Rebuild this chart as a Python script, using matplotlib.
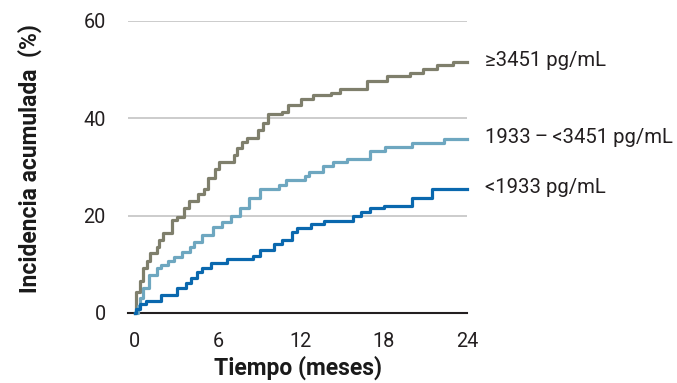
import matplotlib
matplotlib.use("Agg")
import matplotlib.pyplot as plt

plt.rcParams['font.family'] = ['Roboto', 'DejaVu Sans']

# Event times (months) and cumulative incidence (%) – step curves
t_high = [0, 0.07, 0.36, 0.6, 0.85, 1.08, 1.57, 1.76, 2.05, 2.65, 3.01, 3.54, 3.93, 4.58, 4.99,
          5.3, 5.78, 6.07, 7.16, 7.4, 7.76, 8.08, 8.87, 9.23, 9.59, 10.6, 11.04, 12.0, 12.9,
          14.2, 14.8, 16.8, 18.2, 19.9, 20.8, 21.8, 23.0, 24.0]
v_high = [0, 4.3, 6.6, 9.2, 10.7, 12.4, 13.6, 14.9, 16.4, 19.1, 19.8, 21.5, 23.0, 24.4, 25.5,
          27.7, 29.5, 31.0, 32.5, 34.0, 35.1, 35.9, 37.6, 39.0, 40.8, 41.4, 42.7, 43.9, 44.8,
          45.3, 46.0, 47.6, 48.7, 49.4, 50.1, 50.9, 51.6, 51.6]

t_mid = [0, 0.2, 0.4, 0.6, 1.01, 1.6, 1.85, 2.4, 2.85, 3.37, 3.98, 4.29, 4.87, 5.66, 6.27,
         6.94, 7.59, 8.24, 9.04, 10.41, 10.92, 12.29, 12.6, 13.57, 14.34, 15.35, 17.0, 18.08,
         20.05, 22.34, 24.0]
v_mid = [0, 1.5, 3.0, 5.1, 7.8, 9.2, 9.9, 10.7, 11.6, 12.6, 13.6, 14.5, 16.0, 17.7, 18.6,
         19.9, 21.5, 23.6, 25.5, 26.4, 27.3, 28.1, 29.0, 30.3, 31.0, 31.6, 33.3, 34.2,
         34.9, 35.7, 35.7]

t_low = [0, 0.1, 0.4, 0.8, 1.88, 3.06, 3.69, 4.05, 4.46, 4.87, 5.5, 6.63, 8.55, 9.04, 10.07,
         10.6, 11.33, 11.7, 12.7, 13.7, 15.74, 16.34, 17.0, 18.03, 20.0, 21.5, 24.0]
v_low = [0, 0.9, 1.8, 2.5, 3.6, 5.2, 6.2, 7.1, 8.5, 9.2, 10.2, 11.0, 11.7, 12.9, 14.1,
         15.1, 16.7, 17.4, 18.2, 18.9, 19.9, 20.7, 21.5, 22.0, 23.7, 25.5, 25.5]

series_labels = ["\u22653451 pg/mL", "1933\u2009\u2013\u2009<3451 pg/mL", "<1933 pg/mL"]
colors = ["#7f7f6c", "#6ea7c0", "#0a68ae"]

x_ticks = [0, 6, 12, 18, 24]
y_ticks = [0, 20, 40, 60]

fig = plt.figure(figsize=(6.77, 3.83), dpi=100)
ax = fig.add_axes([128/677, (383-313)/383, (467-128)/677, (313-21)/383])

for t, v, c in zip([t_high, t_mid, t_low], [v_high, v_mid, v_low], colors):
    ax.step(t, v, where='post', color=c, lw=2.3, clip_on=False, zorder=3)

for t, v, lab in zip([t_high, t_mid, t_low], [v_high, v_mid, v_low], series_labels):
    ax.text(25.3, v[-1] + 0.3, lab, va='center', ha='left', fontsize=14.6, color='#231f20',
            family=['Roboto', 'DejaVu Sans'])

ax.set_xlim(-0.5, 24)
ax.set_ylim(0, 60)
ax.set_xticks(x_ticks)
ax.set_yticks(y_ticks)
ax.set_xticklabels([str(x) for x in x_ticks])
ax.set_yticklabels([str(y) for y in y_ticks])
ax.tick_params(axis='both', length=0, labelsize=14.3, labelcolor='#231f20')
ax.tick_params(axis='y', pad=16)
ax.tick_params(axis='x', pad=14)

for s in ['top', 'right', 'left']:
    ax.spines[s].set_visible(False)
ax.spines['bottom'].set_color('#231f20')
ax.spines['bottom'].set_linewidth(1.5)

ax.yaxis.grid(True, color='#c8c8c8', lw=1.3)
ax.set_axisbelow(True)

ax.set_xlabel("Tiempo (meses)", fontsize=16.5, fontweight='bold', color='#1a1a1a', labelpad=3)
ax.set_ylabel("Incidencia acumulada  (%)", fontsize=16.5, fontweight='bold', color='#1a1a1a')
ax.yaxis.set_label_coords(-0.255, 0.53)

fig.savefig("out.png", dpi=100)
